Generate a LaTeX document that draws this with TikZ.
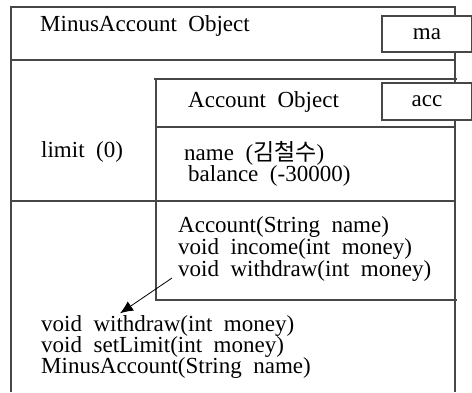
\documentclass[tikz,border=0pt]{standalone}
\usepackage{fontspec}
\usetikzlibrary{calc,arrows.meta}
\setmainfont{Liberation Serif}
\newfontfamily\krfont{Noto Sans CJK KR}
\begin{document}
\begin{tikzpicture}[x=1pt,y=-1pt,
  frame/.style={draw=black!72, line width=1.1pt},
  txt/.style={anchor=west, inner sep=0pt, font=\fontsize{23}{23}\selectfont},
  tag/.style={draw=black!72, line width=1.1pt, fill=white, inner sep=0pt,
              font=\fontsize{23}{23}\selectfont},
  ptr/.style={draw=black, line width=0.8pt, -{Latex[length=13pt,width=11pt]}}]
\useasboundingbox (0,0) rectangle (472,392);

% MinusAccount object frame (open at the bottom)
\draw[frame] (11,392) -- (11,7) -- (455,7) -- (455,392);
\draw[frame] (11,60) -- (455,60);
\draw[frame] (11,201) -- (455,201);

% embedded Account object
\draw[frame] (154,79) -- (457,79);
\draw[frame] (156,79) -- (156,301);
\draw[frame] (156,300) -- (457,300);
\draw[frame] (156,127) -- (455,127);

% reference labels
\node[tag, minimum width=90pt, minimum height=36pt] (ma) at (427,34) {ma};
\node[tag, minimum width=90pt, minimum height=37pt] (acc) at (427,101.5) {acc};

% texts
\node[txt] (mtitle) at (40,26) {MinusAccount\ \ Object};
\node[txt] (atitle) at (188,102) {Account\ \ Object};
\node[txt] (limit) at (41,152) {limit\ \ (0)};
\node[txt] (name) at (184,153) {name\ \ ({\krfont 김철수})};
\node[txt] (bal) at (188,176) {balance\ \ (-30000)};
\node[txt] (actor) at (178,227) {Account(String\ \ name)};
\node[txt] (inc) at (178,249) {void\ \ income(int\ \ money)};
\node[txt] (iwd) at (178,271) {void\ \ withdraw(int\ \ money)};
\node[txt] (owd) at (41,326) {void\ \ withdraw(int\ \ money)};
\node[txt] (lim) at (41,347) {void\ \ setLimit(int\ \ money)};
\node[txt] (mctor) at (41,368) {MinusAccount(String\ \ name)};

% override arrow
\coordinate (ps) at ($(iwd.west)+(-6,7)$);
\coordinate (pe) at ($(owd.north west)+(79,-2)$);
\draw[ptr] (ps) -- (pe);
\end{tikzpicture}
\end{document}
